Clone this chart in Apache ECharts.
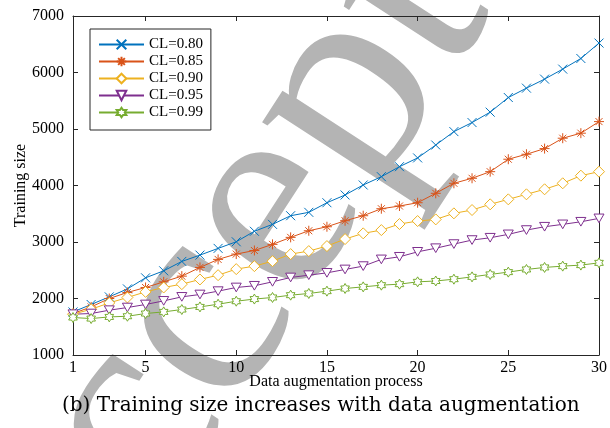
<!DOCTYPE html>
<html>
  <head>
    <meta charset="utf-8" />
    <title>Training size</title>
    <script src="https://cdn.jsdelivr.net/npm/echarts@6/dist/echarts.min.js"></script>
    <style>
      body { margin: 0; background: #fff; }
    </style>
  </head>
  <body>
    <div id="main" style="width: 610px;height:428px;"></div>
    <script type="text/javascript">
// data
var steps = [1,2,3,4,5,6,7,8,9,10,11,12,13,14,15,16,17,18,19,20,21,22,23,24,25,26,27,28,29,30];
var cl80 = [1762,1894,2029,2170,2366,2490,2656,2768,2887,3004,3190,3312,3465,3525,3695,3832,4009,4156,4333,4488,4716,4954,5114,5298,5557,5723,5883,6060,6248,6521];
var cl85 = [1734,1851,2000,2107,2195,2295,2396,2550,2692,2786,2850,2958,3082,3199,3270,3376,3465,3589,3637,3695,3862,4039,4128,4245,4465,4553,4653,4837,4926,5131];
var cl90 = [1722,1810,1922,2018,2117,2195,2254,2337,2413,2520,2573,2661,2786,2839,2928,3052,3153,3211,3318,3371,3400,3507,3566,3667,3755,3844,3933,4039,4174,4245];
var cl95 = [1722,1734,1793,1840,1894,1958,2029,2071,2130,2195,2225,2295,2372,2413,2454,2514,2573,2692,2738,2826,2890,2963,3034,3075,3135,3211,3270,3312,3358,3418];
var cl99 = [1663,1645,1674,1686,1734,1763,1805,1851,1899,1952,1990,2018,2059,2089,2130,2177,2206,2236,2254,2295,2310,2342,2383,2426,2467,2514,2550,2573,2591,2631];
var seriesNames = ['CL=0.80','CL=0.85','CL=0.90','CL=0.95','CL=0.99'];
var xTicks = [1,5,10,15,20,25,30];
var yTicks = [1000,2000,3000,4000,5000,6000,7000];

var colors = ['#0072BD','#D95319','#EDB120','#7E2F8E','#77AC30'];
var serif = '"Liberation Serif", "Times New Roman", serif';
var axisCol = '#262626';

// marker shapes (matlab-ish)
var markers = [
  'path://M0,0 L10,10 M10,0 L0,10',
  'path://M5,0 L5,10 M0,5 L10,5 M1.5,1.5 L8.5,8.5 M8.5,1.5 L1.5,8.5',
  'path://M5,0 L10,5 L5,10 L0,5 Z',
  'path://M0,1 L10,1 L5,9.66 Z',
  'path://M5,0 L6.443,2.5 L9.33,2.5 L7.887,5 L9.33,7.5 L6.443,7.5 L5,10 L3.557,7.5 L0.67,7.5 L2.113,5 L0.67,2.5 L3.557,2.5 Z'
];
var sizes = [9, 10, 11, 10, 10];

function pairs(vals) {
  return steps.map(function (s, i) { return [s, vals[i]]; });
}

var allData = [cl80, cl85, cl90, cl95, cl99];
var series = allData.map(function (vals, i) {
  return {
    name: seriesNames[i],
    type: 'line',
    data: pairs(vals),
    symbol: markers[i],
    symbolSize: sizes[i],
    symbolKeepAspect: true,
    showAllSymbol: true,
    z: 5,
    lineStyle: { color: colors[i], width: 1 },
    itemStyle: { color: i < 2 ? colors[i] : '#fff', borderColor: colors[i], borderWidth: 1 }
  };
});

var myChart = echarts.init(document.getElementById('main'));
myChart.setOption({
  animation: false,
  textStyle: { fontFamily: serif },
  grid: { left: 73, right: 9, top: 16, bottom: 73 },
  legend: {
    data: seriesNames,
    orient: 'vertical',
    left: 90,
    top: 29,
    padding: [8, 8, 10, 8],
    itemWidth: 45,
    itemHeight: 12,
    itemGap: 2,
    backgroundColor: '#fff',
    borderColor: axisCol,
    borderWidth: 1,
    textStyle: { fontFamily: serif, fontSize: 15, color: '#000' }
  },
  xAxis: [{
    type: 'value',
    min: 1, max: 30,
    name: 'Data augmentation process',
    nameLocation: 'middle',
    nameGap: 19,
    nameMoveOverlap: false,
    nameTextStyle: { fontFamily: serif, fontSize: 16, color: '#000' },
    axisLine: { lineStyle: { color: axisCol } },
    axisTick: { inside: true, length: 5, customValues: xTicks, lineStyle: { color: axisCol } },
    axisLabel: { customValues: xTicks, fontFamily: serif, fontSize: 16, color: '#000', margin: 5 },
    splitLine: { show: false }
  }, {
    type: 'value',
    position: 'top',
    min: 1, max: 30,
    axisLine: { lineStyle: { color: axisCol } },
    axisTick: { inside: true, length: 5, customValues: xTicks, lineStyle: { color: axisCol } },
    axisLabel: { show: false },
    splitLine: { show: false }
  }],
  yAxis: [{
    type: 'value',
    min: 1000, max: 7000, interval: 1000,
    name: 'Training size',
    nameLocation: 'middle',
    nameGap: 44,
    nameMoveOverlap: false,
    nameTextStyle: { fontFamily: serif, fontSize: 16, color: '#000' },
    axisLine: { show: true, lineStyle: { color: axisCol } },
    axisTick: { show: true, inside: true, length: 5, lineStyle: { color: axisCol } },
    axisLabel: { fontFamily: serif, fontSize: 16, color: '#000', margin: 9,
      formatter: function (v) { return yTicks.indexOf(v) >= 0 ? String(v) : ''; } },
    splitLine: { show: false }
  }, {
    type: 'value',
    position: 'right',
    min: 1000, max: 7000, interval: 1000,
    axisLine: { show: true, lineStyle: { color: axisCol } },
    axisTick: { show: true, inside: true, length: 5, lineStyle: { color: axisCol } },
    axisLabel: { show: false },
    splitLine: { show: false }
  }],
  graphic: [{
    // grey "Accepted" stamp behind the plot
    type: 'text',
    x: -18, y: 658,
    rotation: 57 * Math.PI / 180,
    z: -10,
    silent: true,
    style: { text: 'Accepted', font: '290px "Liberation Serif"', fill: '#b4b4b4',
      align: 'left', verticalAlign: 'middle' }
  }, {
    type: 'text',
    left: 62,
    top: 396,
    style: { text: '(b) Training size increases with data augmentation',
      font: '20px "DejaVu Serif"', fill: '#000' }
  }],
  series: series
});
    </script>
  </body>
</html>
